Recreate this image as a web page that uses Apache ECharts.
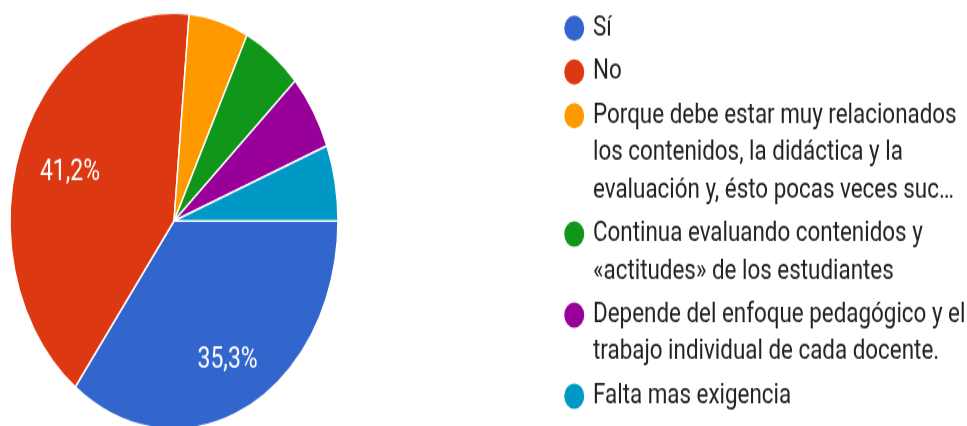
<!DOCTYPE html>
<html>
<head>
<meta charset="utf-8">
<script src="https://cdn.jsdelivr.net/npm/echarts@6/dist/echarts.min.js"></script>
<style>
html,body{margin:0;padding:0;background:#fff;overflow:hidden;}
#wrap{width:967px;height:426px;overflow:hidden;}
#chart{width:967px;height:336px;transform:scaleY(1.268);transform-origin:0 0;}
</style>
</head>
<body>
<div id="wrap"><div id="chart"></div></div>
<script>
const categories = [
  'Sí',
  'No',
  'Porque debe estar muy relacionados\nlos contenidos, la didáctica y la\nevaluación y, ésto pocas veces suc…',
  'Continua evaluando contenidos y\n«actitudes» de los estudiantes',
  'Depende del enfoque pedagógico y el\ntrabajo individual de cada docente.',
  'Falta mas exigencia'
];
const values = [6, 7, 1, 1, 1, 1];
const percentLabels = ['35,3%', '41,2%', '', '', '', ''];
const colors = ['#3366cc', '#dc3912', '#ff9900', '#109618', '#990099', '#0099c6'];

// ---- styling / layout (not data) ----
const LH = 29.4;          // legend line height (logical px)
const GAP = 5.1;          // gap between legend items
const ICON_W = 22.5;
const ICON_R = 11;
const labelStyleByIndex = {0: {offset: [1, 4]}, 1: {offset: [6, 5]}};

function iconPath(lines) {
  const h = lines * LH;
  const cx = ICON_W / 2, cy = LH / 2, r = ICON_R;
  return 'path://M0 0 M' + ICON_W + ' ' + h +
    ' M' + (cx - r) + ' ' + cy +
    ' A' + r + ' ' + r + ' 0 1 0 ' + (cx + r) + ' ' + cy +
    ' A' + r + ' ' + r + ' 0 1 0 ' + (cx - r) + ' ' + cy + ' Z';
}

const legends = [];
let legendTop = 6.6;
categories.forEach((c, i) => {
  const n = c.split('\n').length;
  legends.push({
    orient: 'vertical',
    left: 562,
    top: legendTop,
    padding: 0,
    itemWidth: ICON_W,
    itemHeight: n * LH,
    icon: iconPath(n),
    selectedMode: false,
    data: [c],
    textStyle: {fontFamily: 'Roboto', fontSize: 22.4, lineHeight: LH, color: '#222', padding: [0, 0, 0, 2.5]}
  });
  legendTop += n * LH + GAP;
});

const chart = echarts.init(document.getElementById('chart'), null, {renderer: 'canvas'});
const mainData = categories.map((c, i) => ({name: c, value: values[i], itemStyle: {color: colors[i]}}));
const labelData = categories.map((c, i) => ({
  name: c, value: values[i],
  label: Object.assign({show: percentLabels[i] !== '', formatter: percentLabels[i]}, labelStyleByIndex[i] || {})
}));

chart.setOption({
  animation: false,
  backgroundColor: '#fff',
  legend: legends,
  series: [
    {
      type: 'pie',
      center: [174, 174.3],
      radius: [0, 164],
      startAngle: 0,
      clockwise: true,
      silent: true,
      label: {show: false},
      labelLine: {show: false},
      itemStyle: {borderColor: '#fff', borderWidth: 1.5},
      data: mainData
    },
    {
      type: 'pie',
      center: [174, 174.3],
      radius: [66, 164],
      startAngle: 0,
      clockwise: true,
      silent: true,
      itemStyle: {color: 'rgba(0,0,0,0)', borderWidth: 0},
      label: {position: 'inside', color: '#fff', fontFamily: 'Roboto', fontSize: 23},
      labelLine: {show: false},
      data: labelData
    }
  ]
});
</script>
</body>
</html>
